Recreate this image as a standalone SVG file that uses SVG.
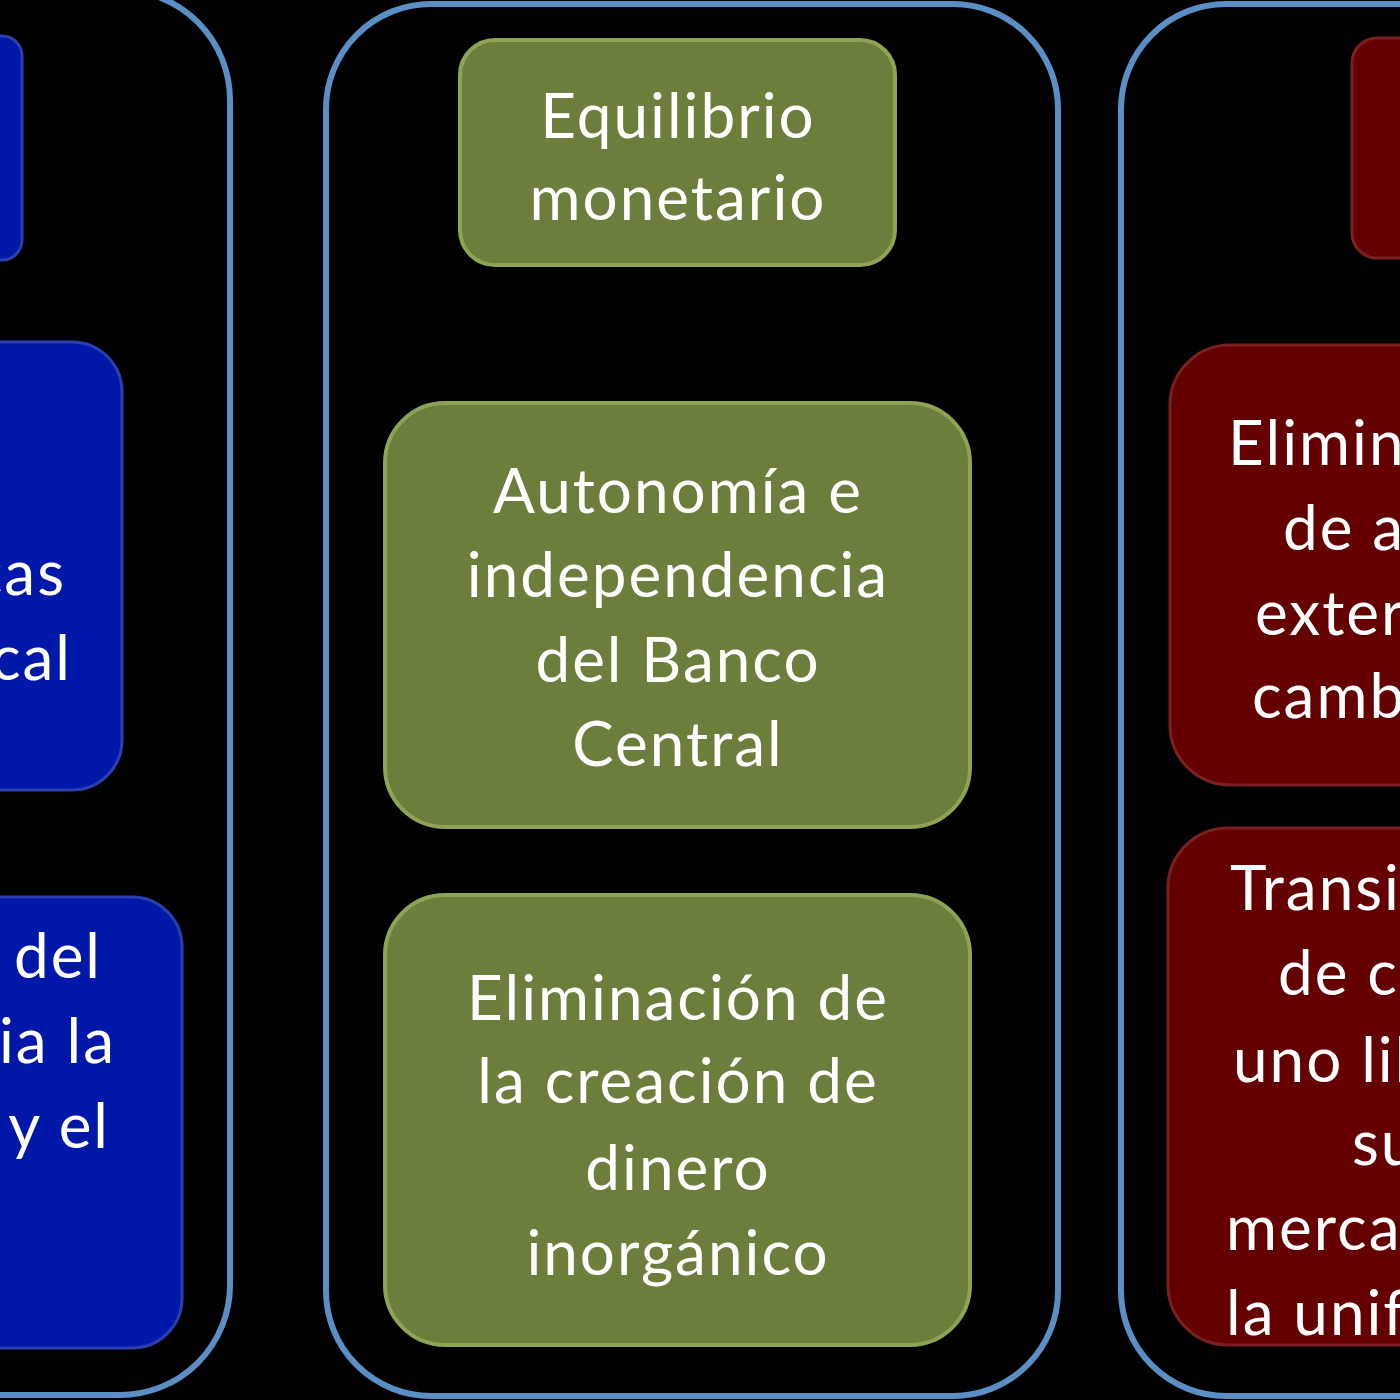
<svg xmlns="http://www.w3.org/2000/svg" width="1400" height="1400" viewBox="0 0 1400 1400">
<style>
.c{fill:none;stroke:#5a8fc6;stroke-width:6}
.b{fill:#0018a8;stroke:#2a3fb0;stroke-width:3}
.g{fill:#6c7e3b;stroke:#8ea455;stroke-width:4}
.r{fill:#640000;stroke:#7a2020;stroke-width:3}
text{font-family:Lato,"Open Sans",sans-serif;font-size:62px;letter-spacing:2px;fill:#fff}
.m{text-anchor:middle}
.e{text-anchor:end}
</style>
<rect width="1400" height="1400" fill="#000"/>
<g id="containers">
<rect class="c" x="-200" y="-10" width="430" height="1405" rx="110"/>
<rect class="c" x="326" y="4" width="732" height="1392" rx="105"/>
<rect class="c" x="1121" y="4" width="400" height="1392" rx="105"/>
</g>
<g id="left1"><rect class="b" x="-100" y="36" width="122" height="224" rx="20"/></g>
<g id="left2"><rect class="b" x="-100" y="342" width="222" height="448" rx="50"/>
<text class="e" x="66" y="595">cas</text><text class="e" x="72" y="680">cal</text></g>
<g id="left3"><rect class="b" x="-100" y="897" width="282" height="451" rx="50"/>
<text class="e" x="102" y="978">del</text><text class="e" x="116" y="1063">ia la</text><text class="e" x="110" y="1148">y el</text></g>
<g id="c1"><rect class="g" x="460" y="40" width="435" height="225" rx="35"/>
<text class="m" x="678" y="138">Equilibrio</text><text class="m" x="678" y="220">monetario</text></g>
<g id="c2"><rect class="g" x="385" y="403" width="585" height="424" rx="60"/>
<text class="m" x="678" y="513">Autonomía e</text><text class="m" x="678" y="597">independencia</text><text class="m" x="678" y="682">del Banco</text><text class="m" x="678" y="766">Central</text></g>
<g id="c3"><rect class="g" x="385" y="895" width="585" height="450" rx="60"/>
<text class="m" x="678" y="1020">Eliminación de</text><text class="m" x="678" y="1103">la creación de</text><text class="m" x="678" y="1190">dinero</text><text class="m" x="678" y="1275">inorgánico</text></g>
<g id="r1"><rect class="r" x="1352" y="38" width="150" height="220" rx="25"/></g>
<g id="r2"><rect class="r" x="1170" y="345" width="330" height="440" rx="60"/>
<text x="1228" y="465">Elimin</text><text x="1283" y="550">de a</text><text x="1255" y="635">exter</text><text x="1252" y="718">camb</text></g>
<g id="r3"><rect class="r" x="1168" y="828" width="330" height="517" rx="60"/>
<text x="1230" y="910">Transi</text><text x="1278" y="995">de c</text><text x="1233" y="1082">uno lib</text><text x="1352" y="1165">su</text><text x="1226" y="1250">merca</text><text x="1226" y="1335">la unif</text></g>
</svg>
